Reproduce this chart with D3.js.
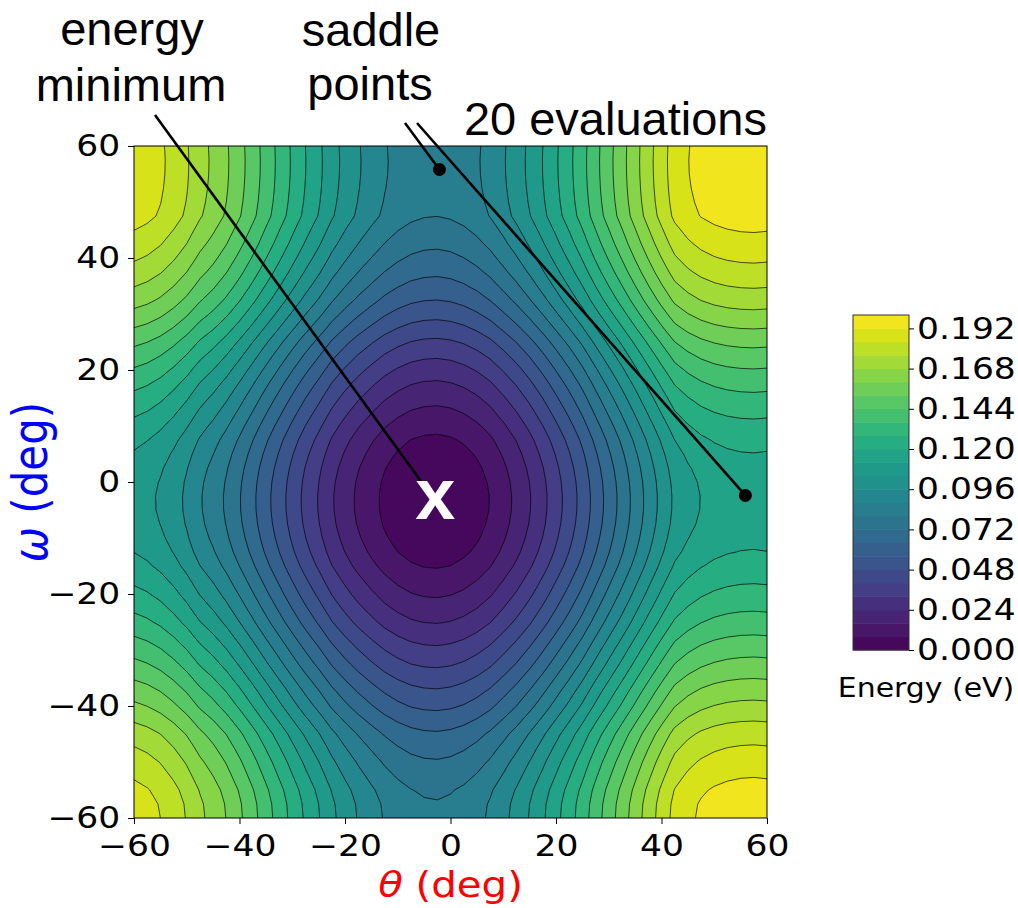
<!DOCTYPE html>
<html>
<head>
<meta charset="utf-8">
<title>energy surface</title>
<script src="https://d3js.org/d3.v7.min.js"></script>
<style>
  body { margin: 0; background: #fff; }
  text { font-family: "DejaVu Sans", sans-serif; }
</style>
</head>
<body>
<svg id="chart" width="1018" height="908"></svg>
<script>
// sample angles (deg), same for theta and omega
var gridDeg = [-60, -57.5, -55, -52.5, -50, -47.5, -45, -42.5, -40, -37.5, -35, -32.5,
               -30, -27.5, -25, -22.5, -20, -17.5, -15, -12.5, -10, -7.5, -5, -2.5, 0,
               2.5, 5, 7.5, 10, 12.5, 15, 17.5, 20, 22.5, 25, 27.5, 30, 32.5, 35, 37.5,
               40, 42.5, 45, 47.5, 50, 52.5, 55, 57.5, 60];

// energy (eV) along theta through the minimum
var thetaEnergy = [0.1074, 0.1057, 0.1030, 0.0992, 0.0945, 0.0887, 0.0842, 0.0788,
                   0.0725, 0.0657, 0.0586, 0.0516, 0.0446, 0.0378, 0.0315, 0.0248,
                   0.0194, 0.0145, 0.0103, 0.0064, 0.0035, 0.0014, 0.0003, 0.0000,
                   0.0007, 0.0023, 0.0048, 0.0082, 0.0128, 0.0178, 0.0235, 0.0298,
                   0.0366, 0.0436, 0.0510, 0.0592, 0.0671, 0.0749, 0.0829, 0.0908,
                   0.0984, 0.1055, 0.1094, 0.1122, 0.1140, 0.1151, 0.1157, 0.1159, 0.1156];

// energy (eV) along omega through the minimum
var omegaEnergy = [0.0810, 0.0805, 0.0788, 0.0758, 0.0727, 0.0690, 0.0650, 0.0597,
                   0.0542, 0.0492, 0.0439, 0.0386, 0.0336, 0.0285, 0.0235, 0.0191,
                   0.0149, 0.0111, 0.0074, 0.0045, 0.0024, 0.0009, 0.0001, 0.0000,
                   0.0006, 0.0019, 0.0039, 0.0065, 0.0101, 0.0141, 0.0183, 0.0228,
                   0.0277, 0.0329, 0.0384, 0.0445, 0.0504, 0.0560, 0.0609, 0.0655,
                   0.0696, 0.0734, 0.0767, 0.0801, 0.0812, 0.0819, 0.0823, 0.0824, 0.0822];

var levelStep = 0.008;
var levelCount = 25;
var axisTicks = [-60, -40, -20, 0, 20, 40, 60];
var cbTicks = [0, 0.024, 0.048, 0.072, 0.096, 0.120, 0.144, 0.168, 0.192];

var minimumPoint = [{ theta: -2.9, omega: -3.3 }];
var saddlePoints = [{ theta: -2.1, omega: 55.8 }, { theta: 55.9, omega: -2.4 }];

var sx = 1.15; // the original figure is a bit wider than tall

var svg = d3.select('#chart');

var xScale = d3.scaleLinear().domain([-60, 60]).range([134, 767]);
var yScale = d3.scaleLinear().domain([-60, 60]).range([818, 146]);

// table for d3.contours: row = omega, column = theta
var n = gridDeg.length;
var step = gridDeg[1] - gridDeg[0];
var values = [];
for (var j = 0; j < n; j++) {
    for (var i = 0; i < n; i++) {
        values.push(thetaEnergy[i] + omegaEnergy[j]);
    }
}

var levels = d3.range(levelCount).map(function(k) { return k * levelStep; });
function bandColor(k) { return d3.interpolateViridis((k + 0.5) / levelCount); }

var bands = d3.contours().size([n, n]).thresholds(levels)(values);

var toPlot = d3.geoTransform({
    point: function(x, y) {
        this.stream.point(xScale(gridDeg[0] + step * (x - 0.5)),
                          yScale(gridDeg[0] + step * (y - 0.5)));
    }
});
var path = d3.geoPath(toPlot);

svg.append('defs').append('clipPath').attr('id', 'plot-clip')
    .append('rect')
    .attr('x', xScale(-60)).attr('y', yScale(60))
    .attr('width', xScale(60) - xScale(-60))
    .attr('height', yScale(-60) - yScale(60));

var plot = svg.append('g').attr('clip-path', 'url(#plot-clip)');

plot.selectAll('path.band')
    .data(bands)
    .enter().append('path')
    .attr('class', 'band')
    .attr('d', path)
    .attr('fill', function(d, k) { return bandColor(k); });

plot.selectAll('path.iso')
    .data(bands.slice(1))
    .enter().append('path')
    .attr('class', 'iso')
    .attr('d', path)
    .attr('fill', 'none')
    .attr('stroke', '#000')
    .attr('stroke-width', 0.8)
    .attr('stroke-opacity', 0.85);

// frame
svg.append('rect')
    .attr('x', xScale(-60)).attr('y', yScale(60))
    .attr('width', xScale(60) - xScale(-60))
    .attr('height', yScale(-60) - yScale(60))
    .attr('fill', 'none').attr('stroke', '#000').attr('stroke-width', 1);

// axes
var xAxis = svg.append('g')
    .attr('transform', 'translate(0,' + yScale(-60) + ')')
    .call(d3.axisBottom(xScale).tickValues(axisTicks).tickSize(6).tickSizeOuter(0).tickPadding(11));

var yAxis = svg.append('g')
    .attr('transform', 'translate(' + xScale(-60) + ',0)')
    .call(d3.axisLeft(yScale).tickValues(axisTicks).tickSize(6).tickSizeOuter(0).tickPadding(6));

[xAxis, yAxis].forEach(function(ax) {
    ax.select('.domain').remove();
    ax.selectAll('line').attr('stroke', '#000');
    ax.selectAll('text')
        .attr('fill', '#000')
        .style('font-size', '30px')
        .attr('transform', 'scale(' + sx + ',1)');
});

svg.append('text')
    .attr('transform', 'translate(' + xScale(0) + ',897) scale(' + sx + ',1)')
    .attr('text-anchor', 'middle')
    .style('font-size', '35px')
    .attr('fill', '#ff0000')
    .html('<tspan font-style="italic">θ</tspan> (deg)');

svg.append('text')
    .attr('transform', 'translate(47,' + yScale(0) + ') rotate(-90) scale(1,' + sx + ')')
    .attr('text-anchor', 'middle')
    .style('font-size', '42px')
    .attr('fill', '#0000ff')
    .html('<tspan font-style="italic">ω</tspan> (deg)');

// colorbar
var cbScale = d3.scaleLinear().domain([0, levelCount * levelStep]).range([650, 315]);
var cbX = 853, cbW = 56;
var cb = svg.append('g');
cb.selectAll('rect.cb')
    .data(levels)
    .enter().append('rect')
    .attr('class', 'cb')
    .attr('x', cbX)
    .attr('y', function(d) { return cbScale(d + levelStep); })
    .attr('width', cbW)
    .attr('height', function(d) { return cbScale(d) - cbScale(d + levelStep) + 0.5; })
    .attr('fill', function(d, k) { return bandColor(k); });
cb.append('rect')
    .attr('x', cbX).attr('y', cbScale(levelCount * levelStep))
    .attr('width', cbW).attr('height', cbScale(0) - cbScale(levelCount * levelStep))
    .attr('fill', 'none').attr('stroke', '#333').attr('stroke-width', 1);

var cbAxis = svg.append('g')
    .attr('transform', 'translate(' + (cbX + cbW) + ',0)')
    .call(d3.axisRight(cbScale).tickValues(cbTicks).tickFormat(d3.format('.3f'))
        .tickSize(5).tickSizeOuter(0).tickPadding(2));
cbAxis.select('.domain').remove();
cbAxis.selectAll('line').attr('stroke', '#000');
cbAxis.selectAll('text')
    .attr('fill', '#000')
    .style('font-size', '30px')
    .attr('transform', 'scale(' + sx + ',1)');

svg.append('text')
    .attr('transform', 'translate(926,697) scale(' + sx + ',1)')
    .attr('text-anchor', 'middle')
    .style('font-size', '26px')
    .attr('fill', '#000')
    .text('Energy (eV)');

// annotations
var ann = svg.append('g');
var annFont = '47px';
[['energy', 132, 45], ['minimum', 131, 101], ['saddle', 371, 46], ['points', 370, 100]]
    .forEach(function(t) {
        ann.append('text')
            .attr('x', t[1]).attr('y', t[2])
            .attr('text-anchor', 'middle')
            .style('font-family', '"Liberation Sans", Arial, sans-serif')
            .style('font-size', annFont)
            .text(t[0]);
    });
ann.append('text')
    .attr('x', xScale(60)).attr('y', 135)
    .attr('text-anchor', 'end')
    .style('font-family', '"Liberation Sans", Arial, sans-serif')
    .style('font-size', annFont)
    .text('20 evaluations');

var m = minimumPoint[0];
ann.append('line')
    .attr('x1', 155).attr('y1', 115)
    .attr('x2', xScale(m.theta) - 14).attr('y2', yScale(m.omega) - 19)
    .attr('stroke', '#000').attr('stroke-width', 2.6);

var lineStarts = [[405, 123], [417, 123]];
ann.selectAll('line.saddle')
    .data(saddlePoints)
    .enter().append('line')
    .attr('class', 'saddle')
    .attr('x1', function(d, k) { return lineStarts[k][0]; })
    .attr('y1', function(d, k) { return lineStarts[k][1]; })
    .attr('x2', function(d) { return xScale(d.theta); })
    .attr('y2', function(d) { return yScale(d.omega); })
    .attr('stroke', '#000').attr('stroke-width', 2.6);

svg.selectAll('circle.saddle')
    .data(saddlePoints)
    .enter().append('circle')
    .attr('class', 'saddle')
    .attr('cx', function(d) { return xScale(d.theta); })
    .attr('cy', function(d) { return yScale(d.omega); })
    .attr('r', 6.5)
    .attr('fill', '#000');

svg.selectAll('text.minimum')
    .data(minimumPoint)
    .enter().append('text')
    .attr('class', 'minimum')
    .attr('x', function(d) { return xScale(d.theta); })
    .attr('y', function(d) { return yScale(d.omega) + 19; })
    .attr('text-anchor', 'middle')
    .style('font-family', '"Liberation Sans", Arial, sans-serif')
    .style('font-size', '72px')
    .style('font-weight', 'bold')
    .attr('fill', '#fff')
    .text('x');
</script>
</body>
</html>
